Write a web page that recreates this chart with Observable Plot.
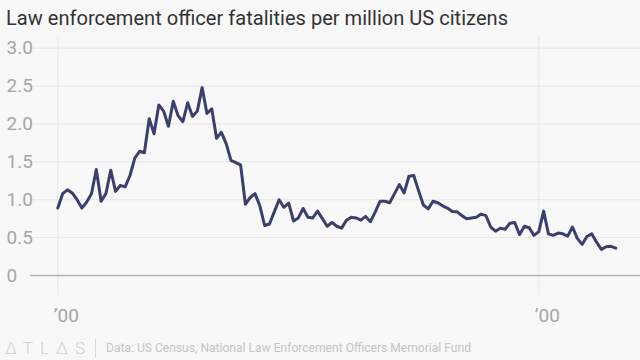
<!DOCTYPE html>
<html><head><meta charset="utf-8">
<script src="https://cdn.jsdelivr.net/npm/d3@7"></script>
<script src="https://cdn.jsdelivr.net/npm/@observablehq/plot@0.6"></script>
<style>
html,body{margin:0;padding:0;background:#f8f8f8;width:640px;height:360px;overflow:hidden;font-family:Roboto,"Noto Sans",sans-serif;}
#title{position:absolute;left:6px;top:5px;font-size:21px;line-height:26px;color:#333;white-space:nowrap;transform-origin:0 0;}
#chart{position:absolute;left:0;top:36px;}
#logo{position:absolute;left:5px;top:337px;font-size:17px;line-height:22px;color:#cfcfcf;letter-spacing:7px;font-weight:300;white-space:nowrap;}
#sep{position:absolute;left:95px;top:339px;width:1px;height:19px;background:#d8d8d8;}
#source{position:absolute;left:106px;top:340px;font-size:13px;line-height:16px;color:#c4c4c4;white-space:nowrap;transform-origin:0 0;}
</style></head><body>
<div id="title">Law enforcement officer fatalities per million US citizens</div>
<div id="chart"></div>
<div id="logo">∆TL∆S</div><div id="sep"></div>
<div id="source">Data: US Census, National Law Enforcement Officers Memorial Fund</div>
<script>
const years = d3.range(1900, 2017);
const values = [
 0.89,1.08,1.13,1.09,1.00,0.89,0.97,1.08,1.40,0.98,
 1.08,1.39,1.11,1.19,1.17,1.32,1.55,1.64,1.62,2.07,
 1.87,2.25,2.17,1.97,2.30,2.11,2.03,2.28,2.10,2.17,
 2.48,2.14,2.20,1.81,1.89,1.74,1.52,1.49,1.46,0.94,
 1.03,1.08,0.92,0.66,0.68,0.84,1.00,0.90,0.955,0.72,
 0.76,0.885,0.77,0.76,0.85,0.75,0.65,0.70,0.65,0.625,
 0.73,0.77,0.76,0.73,0.78,0.71,0.84,0.98,0.98,0.96,
 1.08,1.20,1.09,1.31,1.32,1.12,0.93,0.88,0.98,0.96,
 0.92,0.89,0.845,0.84,0.79,0.75,0.76,0.77,0.81,0.79,
 0.64,0.585,0.625,0.61,0.69,0.70,0.54,0.65,0.63,0.53,
 0.58,0.85,0.55,0.53,0.56,0.55,0.52,0.64,0.49,0.41,
 0.515,0.55,0.44,0.345,0.38,0.385,0.36
];
const yTicks = [0, 0.5, 1, 1.5, 2, 2.5, 3];
const yTickLabels = ["0", "0.5", "1.0", "1.5", "2.0", "2.5", "3.0"];
const xTicks = [1900, 2000];
const xTickLabels = ["’00", "’00"];

const data = years.map((y, i) => ({year: y, value: values[i]}));

const chart = Plot.plot({
  width: 640, height: 294,
  marginLeft: 30, marginRight: 0, marginTop: 11.7, marginBottom: 55,
  x: {domain: [1894.32, 2021.14], axis: null},
  y: {domain: [0, 3], axis: null},
  style: {background: "transparent", fontFamily: "Roboto, sans-serif", overflow: "visible"},
  marks: [
    Plot.ruleY(yTicks.filter(d => d > 0), {stroke: "#e6e6e6", strokeWidth: 1}),
    Plot.ruleX(xTicks, {y1: -0.26, y2: 3.15, stroke: "#e6e6e6", strokeWidth: 1}),
    Plot.ruleY([0], {stroke: "#b5b5b5", strokeWidth: 1.5}),
    Plot.text(yTicks, {y: d => d, text: (d, i) => yTickLabels[i], frameAnchor: "left", dx: -24, textAnchor: "start", fill: "#a6a6a6", fontSize: 19}),
    Plot.text(xTicks, {x: d => d, text: (d, i) => xTickLabels[i], frameAnchor: "bottom", dy: 46, dx: -4, textAnchor: "start", fill: "#a6a6a6", fontSize: 19}),
    Plot.line(data, {x: "year", y: "value", stroke: "#3b3f6e", strokeWidth: 3, strokeLinejoin: "round", strokeLinecap: "round"})
  ]
});
document.getElementById("chart").appendChild(chart);

function fitWidth(id, w) {
  const el = document.getElementById(id);
  const cur = el.getBoundingClientRect().width;
  el.style.transform = `scaleX(${w / cur})`;
}
fitWidth("title", 502);
fitWidth("source", 365);
</script>
</body></html>
